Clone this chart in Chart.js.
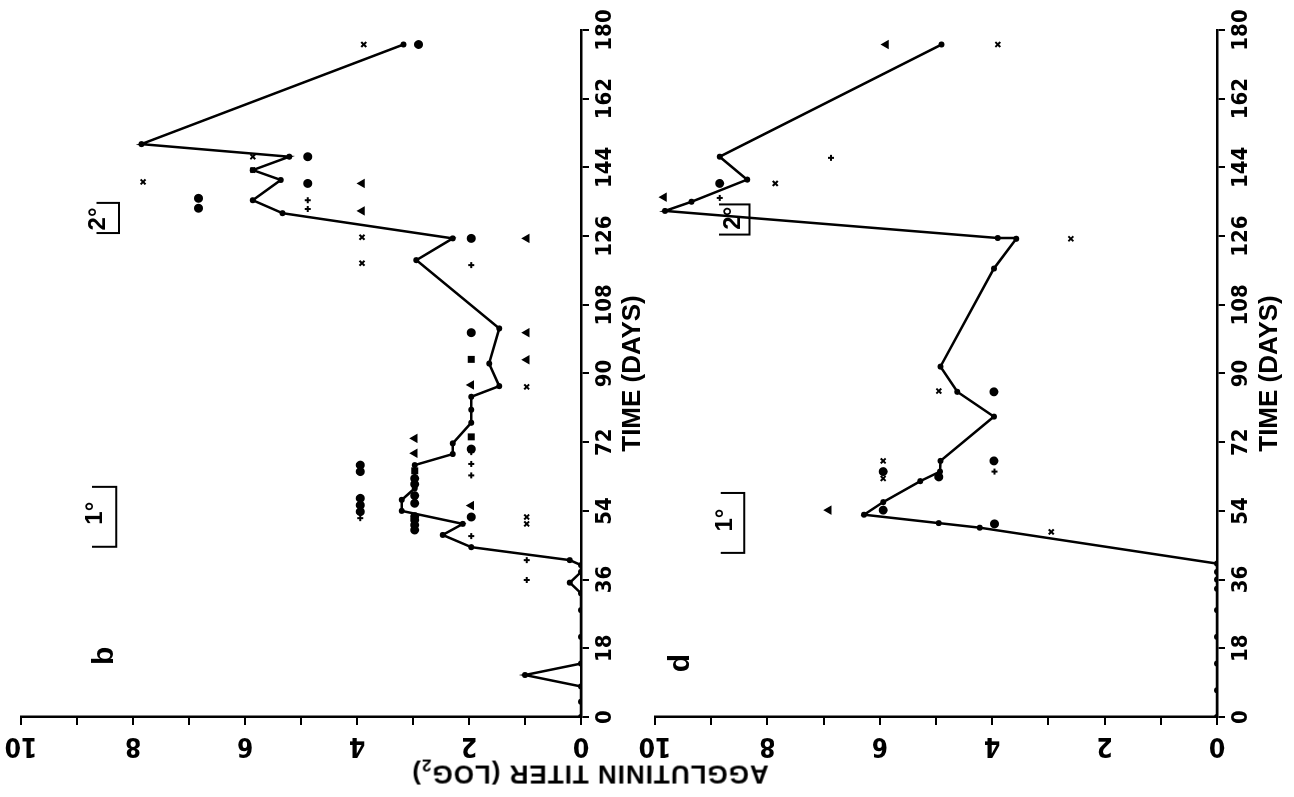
<!DOCTYPE html>
<html>
<head>
<meta charset="utf-8">
<script src="https://cdn.jsdelivr.net/npm/chart.js@4.4.1/dist/chart.umd.min.js"></script>
<style>
  html, body { margin: 0; padding: 0; background: #fff; }
  #page { position: relative; width: 1294px; height: 797px; overflow: hidden; background: #fff; }
  /* the figure is drawn upright and then turned a quarter turn, like the scanned page */
  #fig { position: absolute; left: 0; top: 0; width: 797px; height: 1294px;
         transform-origin: 0 0; transform: translate(0, 797px) rotate(-90deg); }
  #fig canvas { position: absolute; left: 0; }
  #yTitle { position: absolute; left: 25px; top: 590px; transform: translate(-50%, -50%) rotate(-90deg);
            font: bold 26px 'Liberation Sans', Arial, sans-serif; letter-spacing: 1px;
            white-space: nowrap; color: #000; }
  #yTitle sub { font-size: 17px; }
</style>
</head>
<body>
<div id="page">
  <div id="fig">
    <canvas id="panelB" width="797" height="660" style="top:0"></canvas>
    <canvas id="panelD" width="797" height="674" style="top:620px"></canvas>
    <div id="yTitle">AGGLUTININ TITER (LOG<sub>2</sub>)</div>
  </div>
</div>
<script>
const tickFont = "'Liberation Sans Narrow', 'DejaVu Sans Condensed', 'Liberation Sans', sans-serif";
const titleFont = "'Liberation Sans', Arial, sans-serif";

const dayTicks = [0, 18, 36, 54, 72, 90, 108, 126, 144, 162, 180];
const titerTicks = [0, 2, 4, 6, 8, 10];

// panel b - mean titer line
const bLineDays = [0, 4, 8, 11, 14, 21, 28, 32.4, 35.2, 38, 39.8, 41.1, 44.5, 47.7, 50.6, 54, 56.9, 59.9, 66, 68.9,
  71.7, 77.1, 80.5, 83.9, 86.7, 92.6, 101.8, 119.7, 125.4, 132, 135.4, 140.7, 143.3, 146.8, 150.1, 176.2];
const bLineTiter = [0, 0, 0, 1, 0, 0, 0, 0, 0.2, 0, 0, 0.2, 1.96, 2.47, 2.11, 3.2, 3.2, 2.97, 2.97, 2.29,
  2.29, 1.96, 1.96, 1.96, 1.46, 1.64, 1.46, 2.94, 2.29, 5.33, 5.86, 5.36, 5.86, 5.21, 7.85, 3.17];

// panel b - single animals [day, titer]
const bDots = [[176.2, 2.9], [146.8, 4.88], [139.8, 4.88], [135.9, 6.83], [133.3, 6.83], [125.4, 1.96], [100.7, 1.96],
  [66, 3.94], [64.3, 3.94], [57.3, 3.94], [55.5, 3.94], [53.8, 3.94], [62.5, 2.97], [61, 2.97], [58, 2.97], [56, 2.97],
  [52.5, 2.97], [51.6, 2.97], [50.3, 2.97], [49, 2.97], [52.4, 1.96], [70.2, 1.96]];
const bCrosses = [[176.2, 3.88], [146.8, 5.86], [140.2, 7.82], [143.3, 5.86], [125.7, 3.91], [118.9, 3.91],
  [86.5, 0.97], [52.4, 0.97], [50.6, 0.97]];
const bPlus = [[135.4, 4.88], [133.1, 4.88], [118.4, 1.96], [69.4, 1.96], [66.3, 1.96], [63.3, 1.96], [47.4, 1.96],
  [52.1, 3.94], [41.1, 0.97], [35.9, 0.97]];
const bTriangles = [[139.8, 3.91], [132.6, 3.91], [125.4, 0.97], [100.7, 0.97], [93.6, 0.97], [87, 1.96],
  [73, 2.97], [69.1, 2.97], [55.4, 1.96]];
const bSquares = [[93.7, 1.96], [73.4, 1.96], [64.5, 2.97]];

// panel d - mean titer line
const dLineDays = [0, 7, 14, 21, 28, 33.6, 36, 38, 40.2, 49.6, 50.8, 53, 56.3, 61.8, 64.3, 67.1, 78.7, 85.2, 91.8,
  117.5, 125.3, 125.5, 132.6, 135, 140.8, 146.8, 176.2];
const dLineTiter = [0, 0, 0, 0, 0, 0, 0, 0, 0, 4.22, 4.95, 6.28, 5.94, 5.28, 4.93, 4.92, 3.97, 4.62, 4.92,
  3.97, 3.57, 3.9, 9.82, 9.35, 8.36, 8.85, 4.9];

// panel d - single animals [day, titer]
const dDots = [[62.9, 4.95], [50.6, 3.96], [85.2, 3.97], [67.1, 3.97], [64.3, 5.94], [54.2, 5.94], [139.8, 8.85]];
const dCrosses = [[176.2, 3.9], [62.5, 5.94], [48.5, 2.95], [85.4, 4.95], [67.1, 5.94], [139.8, 7.86], [125.3, 2.6]];
const dPlus = [[64.3, 3.96], [146.5, 6.87], [136, 8.85]];
const dTriangles = [[176.2, 5.89], [54.2, 6.91], [136.2, 9.84]];

// immunisation brackets: [first day, last day], titer of bar and of the hooks
const bPrimaryDays = [44.6, 60.3];
const bPrimaryTiter = [8.3, 8.73];
const bBoostDays = [126.8, 134.7];
const bBoostTiter = [8.25, 8.65];
const dPrimaryDays = [43, 58.7];
const dPrimaryTiter = [8.41, 8.83];
const dBoostDays = [126.4, 134.3];
const dBoostTiter = [8.32, 8.86];

function zip(days, titer) {
  return days.map((d, i) => ({ x: d, y: titer[i] }));
}
function pairs(list) {
  return list.map(p => ({ x: p[0], y: p[1] }));
}
function bracket(days, titer) {
  return {
    data: [{ x: days[0], y: titer[1] }, { x: days[0], y: titer[0] }, { x: days[1], y: titer[0] }, { x: days[1], y: titer[1] }],
    showLine: true, borderColor: '#000', borderWidth: 2, pointRadius: 0
  };
}
function marker(list, style, r) {
  return {
    data: pairs(list), pointStyle: style, pointRadius: r,
    backgroundColor: '#000', borderColor: '#000', borderWidth: 2, showLine: false
  };
}

const notePlugin = {
  id: 'notes',
  afterDatasetsDraw(chart, args, opts) {
    const ctx = chart.ctx;
    const xs = chart.scales.x;
    const ys = chart.scales.y;
    ctx.save();
    ctx.fillStyle = '#000';
    ctx.textAlign = 'center';
    ctx.textBaseline = 'middle';
    opts.items.forEach(n => {
      ctx.font = 'bold ' + n.size + 'px ' + titleFont;
      ctx.fillText(n.text, xs.getPixelForValue(n.day), ys.getPixelForValue(n.titer));
    });
    ctx.restore();
  }
};

function makePanel(id, cfg) {
  return new Chart(document.getElementById(id), {
    type: 'scatter',
    data: {
      datasets: [
        {
          data: zip(cfg.lineDays, cfg.lineTiter), showLine: true, borderColor: '#000', borderWidth: 2.5,
          pointRadius: 3, pointBackgroundColor: '#000', pointBorderWidth: 0, tension: 0
        },
        marker(cfg.dots, 'circle', 3.5),
        marker(cfg.crosses, 'crossRot', 3.5),
        marker(cfg.plus, 'cross', 3),
        marker(cfg.triangles, 'triangle', 3.5),
        marker(cfg.squares, 'rect', 3.5),
        bracket(cfg.primaryDays, cfg.primaryTiter),
        bracket(cfg.boostDays, cfg.boostTiter)
      ]
    },
    options: {
      responsive: false,
      animation: false,
      layout: { padding: { top: cfg.top, right: 30, left: 0, bottom: 0 } },
      plugins: {
        legend: { display: false },
        tooltip: { enabled: false },
        notes: { items: cfg.notes }
      },
      scales: {
        x: {
          type: 'linear', min: 0, max: 180,
          afterBuildTicks: s => { s.ticks = dayTicks.map(v => ({ value: v })); },
          afterFit: s => { s.height = cfg.xAxisHeight; },
          ticks: { autoSkip: false, maxRotation: 0, padding: 3, color: '#000',
                   font: { family: tickFont, size: 22, weight: 'bold' } },
          grid: { drawOnChartArea: false, tickLength: 8, color: '#000', lineWidth: 2 },
          border: { color: '#000', width: 2.5 },
          title: { display: true, text: 'TIME (DAYS)', color: '#000',
                   font: { family: titleFont, size: 26, weight: 'bold' },
                   padding: { top: 0, bottom: cfg.titlePad } }
        },
        y: {
          type: 'linear', min: 0, max: 10,
          afterFit: s => { s.width = 80; },
          ticks: { stepSize: 1, autoSkip: false, minRotation: 90, maxRotation: 90, crossAlign: 'center',
                   padding: 3, color: '#000',
                   font: { family: tickFont, size: 26, weight: 'bold', lineHeight: 1 },
                   callback: v => titerTicks.includes(v) ? v : '' },
          grid: { drawOnChartArea: false, tickLength: 8, color: '#000', lineWidth: 2 },
          border: { color: '#000', width: 2.5 }
        }
      }
    },
    plugins: [notePlugin]
  });
}

const chartB = makePanel('panelB', {
  lineDays: bLineDays, lineTiter: bLineTiter,
  dots: bDots, crosses: bCrosses, plus: bPlus, triangles: bTriangles, squares: bSquares,
  primaryDays: bPrimaryDays, primaryTiter: bPrimaryTiter, boostDays: bBoostDays, boostTiter: bBoostTiter,
  top: 21, xAxisHeight: 79, titlePad: 12,
  notes: [
    { text: 'b', day: 16, titer: 8.5, size: 30 },
    { text: '1°', day: 53.4, titer: 8.67, size: 24 },
    { text: '2°', day: 130.5, titer: 8.62, size: 24 }
  ]
});

const chartD = makePanel('panelD', {
  lineDays: dLineDays, lineTiter: dLineTiter,
  dots: dDots, crosses: dCrosses, plus: dPlus, triangles: dTriangles, squares: [],
  primaryDays: dPrimaryDays, primaryTiter: dPrimaryTiter, boostDays: dBoostDays, boostTiter: dBoostTiter,
  top: 35, xAxisHeight: 77, titlePad: 9,
  notes: [
    { text: 'd', day: 14.1, titer: 9.54, size: 30 },
    { text: '1°', day: 51.6, titer: 8.74, size: 24 },
    { text: '2°', day: 130.7, titer: 8.6, size: 24 }
  ]
});
</script>
</body>
</html>
